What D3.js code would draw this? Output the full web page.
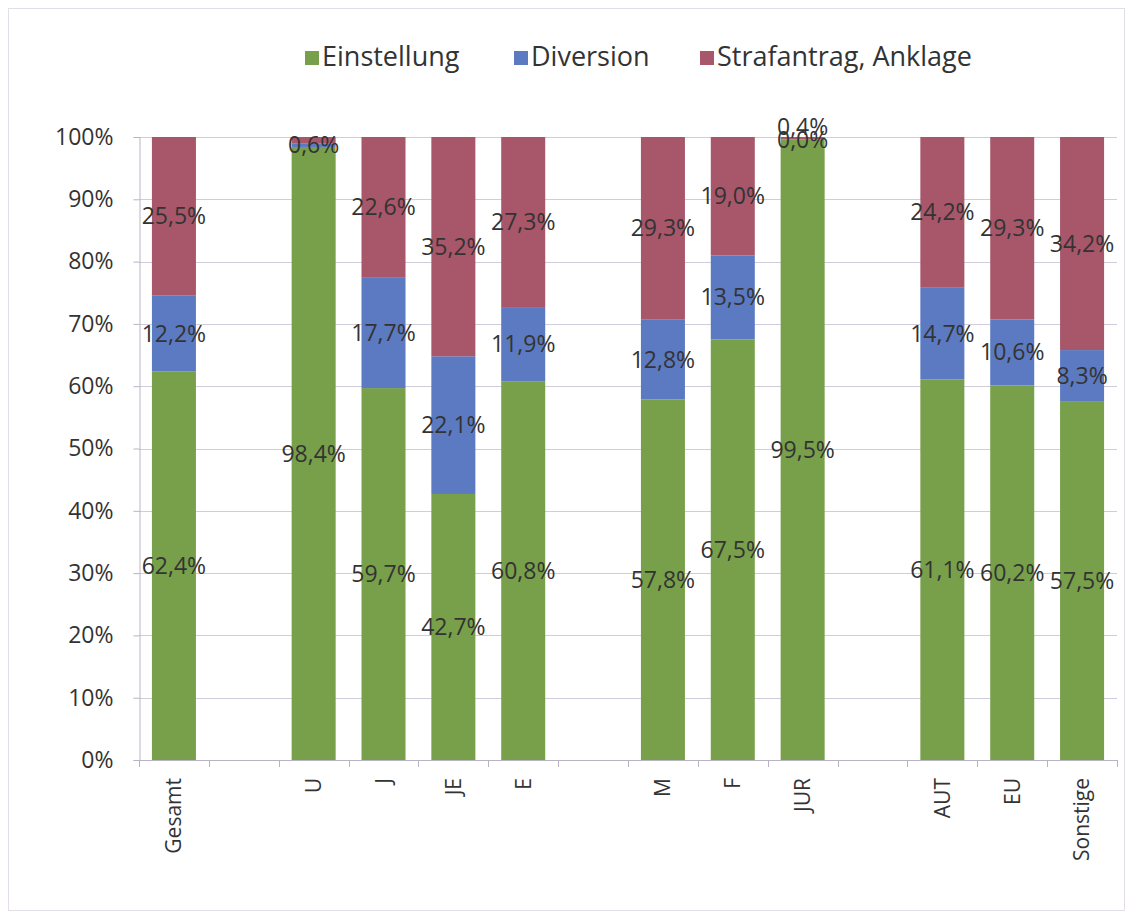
<!DOCTYPE html>
<html>
<head>
<meta charset="utf-8">
<title>Einstellung / Diversion / Strafantrag</title>
<script src="https://cdn.jsdelivr.net/npm/d3@7"></script>
<style>
  body { margin: 0; background: #fff; }
  text { font-family: "Open Sans", "Noto Sans", sans-serif; fill: #333; }
</style>
</head>
<body>
<div id="chart"></div>
<script>
// categories (the "gap" entries are the empty slots between groups)
var categories = ["Gesamt", "gap1", "U", "J", "JE", "E", "gap2", "M", "F", "JUR", "gap3", "AUT", "EU", "Sonstige"];
var seriesNames = ["Einstellung", "Diversion", "Strafantrag, Anklage"];
var colors = ["#78a04a", "#5b7ac2", "#a8566a"];

// values per category, null for the gaps
var einstellung = [62.4, null, 98.4, 59.7, 42.7, 60.8, null, 57.8, 67.5, 99.5, null, 61.1, 60.2, 57.5];
var diversion   = [12.2, null, 0.6, 17.7, 22.1, 11.9, null, 12.8, 13.5, 0.0, null, 14.7, 10.6, 8.3];
var strafantrag = [25.5, null, 1.0, 22.6, 35.2, 27.3, null, 29.3, 19.0, 0.4, null, 24.2, 29.3, 34.2];
// which Strafantrag labels are shown (the chart hides the one for U)
var showStraf   = [true, false, false, true, true, true, false, true, true, true, false, true, true, true];

var yTicks = [0, 10, 20, 30, 40, 50, 60, 70, 80, 90, 100];

var W = 1133, H = 919;
var mLeft = 139, mRight = 1117, mTop = 137, mBottom = 760;

var svg = d3.select("#chart").append("svg")
	.attr("width", W)
	.attr("height", H);

// outer frame
svg.append("rect")
	.attr("x", 8.5).attr("y", 8.5)
	.attr("width", W - 17).attr("height", H - 17)
	.attr("fill", "none")
	.attr("stroke", "#e2dde6");

var x = d3.scaleBand().domain(categories).range([mLeft, mRight]).paddingInner(0.37).paddingOuter(0.185);
var xFull = d3.scaleBand().domain(categories).range([mLeft, mRight]);
var y = d3.scaleLinear().domain([0, 100]).range([mBottom, mTop]);

// gridlines
svg.append("g").selectAll("line").data(yTicks.slice(1)).enter().append("line")
	.attr("x1", mLeft).attr("x2", mRight)
	.attr("y1", function(d) { return Math.round(y(d)) + 0.5; })
	.attr("y2", function(d) { return Math.round(y(d)) + 0.5; })
	.attr("stroke", "#d0ccdc");

// y axis
var yAxis = d3.axisLeft(y).tickValues(yTicks).tickSize(6).tickPadding(20)
	.tickFormat(function(d) { return d + "%"; });
var gy = svg.append("g").attr("transform", "translate(" + (mLeft + 0.5) + ",0)").call(yAxis);
gy.selectAll("path, line").attr("stroke", "#b8b4c4");
gy.selectAll("text").style("font-size", "23px").style("font-family", "Open Sans").attr("fill", "#333");

// build stacks (100% stacked, normalised by row total)
var rows = categories.map(function(c, i) {
	var tot = (einstellung[i] || 0) + (diversion[i] || 0) + (strafantrag[i] || 0);
	return { cat: c, vals: [einstellung[i], diversion[i], strafantrag[i]], tot: tot, i: i };
}).filter(function(r) { return r.vals[0] !== null; });

var segs = [];
rows.forEach(function(r) {
	var acc = 0;
	r.vals.forEach(function(v, k) {
		var y0 = acc / r.tot * 100;
		acc += v;
		var y1 = acc / r.tot * 100;
		segs.push({ cat: r.cat, k: k, v: v, y0: y0, y1: y1, i: r.i });
	});
});

svg.append("g").selectAll("rect").data(segs).enter().append("rect")
	.attr("x", function(d) { return x(d.cat); })
	.attr("width", x.bandwidth())
	.attr("y", function(d) { return y(d.y1); })
	.attr("height", function(d) { return y(d.y0) - y(d.y1); })
	.attr("fill", function(d) { return colors[d.k]; });

// data labels
var fmt = function(v) { return v.toFixed(1).replace(".", ",") + "%"; };
svg.append("g").selectAll("text").data(segs.filter(function(d) {
		return d.k < 2 || showStraf[d.i];
	})).enter().append("text")
	.attr("x", function(d) { return x(d.cat) + x.bandwidth() / 2; })
	.attr("y", function(d) {
		var yy = y((d.y0 + d.y1) / 2);
		if (d.cat === "JUR" && d.k === 2) yy -= 11; // pushed up to avoid overlap
		return yy;
	})
	.attr("dy", "0.35em")
	.attr("text-anchor", "middle")
	.style("font-size", "23px")
	.text(function(d) { return fmt(d.v); });

// x axis baseline and ticks between categories
var gx = svg.append("g");
gx.append("line")
	.attr("x1", mLeft).attr("x2", mRight)
	.attr("y1", mBottom + 0.5).attr("y2", mBottom + 0.5)
	.attr("stroke", "#b8b4c4");
gx.selectAll(".tk").data(d3.range(categories.length + 1)).enter().append("line")
	.attr("x1", function(i) { return Math.round(mLeft + i * xFull.bandwidth()) + 0.5; })
	.attr("x2", function(i) { return Math.round(mLeft + i * xFull.bandwidth()) + 0.5; })
	.attr("y1", mBottom).attr("y2", mBottom + 7)
	.attr("stroke", "#b8b4c4");
gx.selectAll("text").data(categories.filter(function(c) { return c.indexOf("gap") !== 0; }))
	.enter().append("text")
	.attr("transform", function(c) {
		return "translate(" + (xFull(c) + xFull.bandwidth() / 2) + "," + (mBottom + 18) + ") rotate(-90)";
	})
	.attr("dy", "0.35em")
	.attr("text-anchor", "end")
	.style("font-size", "21px")
	.text(function(c) { return c; });

// legend
var legend = svg.append("g");
var lx = [305, 514, 700];
seriesNames.forEach(function(n, k) {
	legend.append("rect")
		.attr("x", lx[k]).attr("y", 51)
		.attr("width", 14).attr("height", 14)
		.attr("fill", colors[k]);
	legend.append("text")
		.attr("x", lx[k] + 17).attr("y", 57)
		.attr("dy", "0.35em")
		.style("font-size", "27px")
		.text(n);
});
</script>
</body>
</html>
